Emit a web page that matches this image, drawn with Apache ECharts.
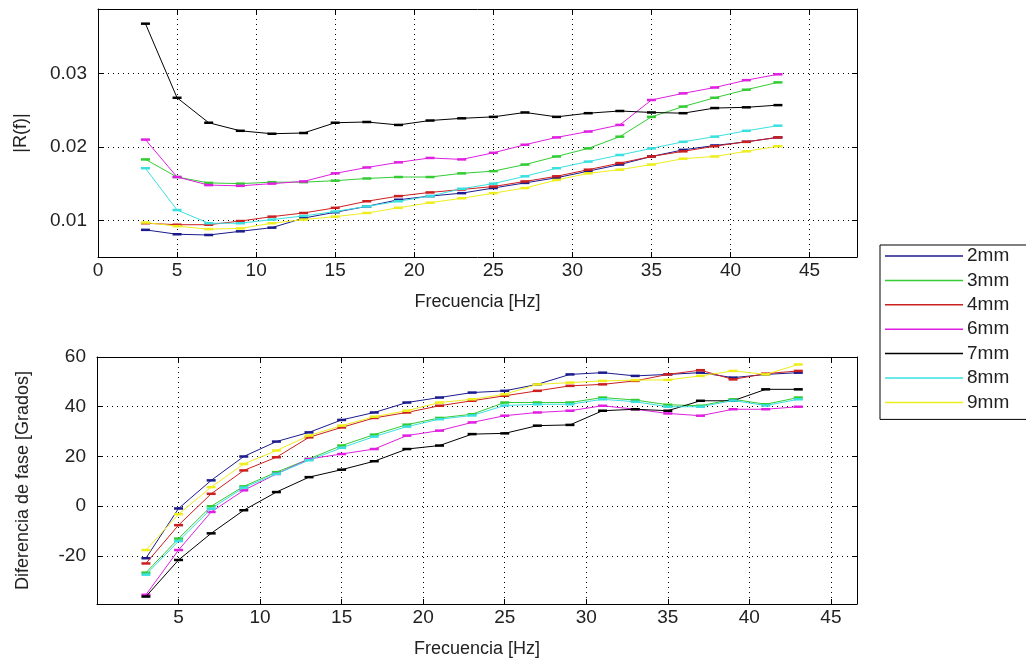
<!DOCTYPE html>
<html>
<head>
<meta charset="utf-8">
<script src="https://cdn.jsdelivr.net/npm/echarts@6/dist/echarts.min.js"></script>
<style>
html,body{margin:0;padding:0;background:#fff;}
#c{width:1026px;height:666px;}
</style>
</head>
<body>
<div id="c"></div>
<script>
// ---------- data ----------
const freq = [3,5,7,9,11,13,15,17,19,21,23,25,27,29,31,33,35,37,39,41,43];
const names = ['2mm','3mm','4mm','6mm','7mm','8mm','9mm'];
const colors = ['#1b1b8e','#33cc33','#cc1f1f','#e01fe0','#000000','#3ae0e0','#eeee1e'];

// |R(f)|
const r2mm = [0.0087,0.0081,0.0080,0.0085,0.0090,0.0103,0.0111,0.0119,0.0128,0.0133,0.0137,0.0144,0.0151,0.0158,0.0167,0.0176,0.0187,0.0196,0.0202,0.0207,0.0213];
const r3mm = [0.0183,0.0159,0.0151,0.0150,0.0152,0.0152,0.0154,0.0157,0.0159,0.0159,0.0164,0.0167,0.0176,0.0187,0.0198,0.0214,0.0241,0.0255,0.0267,0.0278,0.0288];
const r4mm = [0.0096,0.0094,0.0094,0.0099,0.0105,0.0110,0.0117,0.0126,0.0133,0.0138,0.0142,0.0146,0.0153,0.0160,0.0169,0.0178,0.0187,0.0194,0.0201,0.0207,0.0213];
const r6mm = [0.0210,0.0159,0.0148,0.0147,0.0150,0.0153,0.0164,0.0172,0.0179,0.0185,0.0183,0.0192,0.0203,0.0213,0.0221,0.0230,0.0264,0.0273,0.0281,0.0291,0.0299];
const r7mm = [0.0368,0.0267,0.0233,0.0222,0.0218,0.0219,0.0233,0.0234,0.0230,0.0236,0.0239,0.0241,0.0247,0.0241,0.0246,0.0249,0.0247,0.0246,0.0253,0.0254,0.0257];
const r8mm = [0.0171,0.0114,0.0096,0.0096,0.0101,0.0106,0.0112,0.0119,0.0126,0.0133,0.0143,0.0150,0.0160,0.0171,0.0180,0.0189,0.0198,0.0207,0.0214,0.0222,0.0229];
const r9mm = [0.0097,0.0092,0.0088,0.0089,0.0096,0.0101,0.0105,0.0110,0.0117,0.0124,0.0130,0.0137,0.0144,0.0155,0.0164,0.0169,0.0176,0.0184,0.0187,0.0194,0.0201];

// Diferencia de fase [Grados]
const p2mm = [-20.9,-0.9,10.4,20,26,29.7,34.7,37.7,41.7,43.7,45.7,46.4,49,53,53.7,52.4,53,53.7,51.7,53,53.7];
const p3mm = [-26.7,-13,0,8,13.7,19,24.4,28.8,32.8,35.5,37,41.7,41.7,41.7,43.7,42.7,40.8,40.4,43,41,43.7];
const p4mm = [-23,-7.6,5,14.4,19.7,27.7,31.7,35.5,37.7,40.4,42.4,44.4,46.4,48.4,49,50.4,53,54.7,51,53.3,54.4];
const p6mm = [-35.6,-17.6,-2.3,6.4,13,19,21,23,28.4,30.4,33.7,36.4,37.7,38.4,40.4,39,37.3,36.4,39,39,40];
const p7mm = [-36.3,-21.6,-10.9,-1.6,5.7,11.7,14.7,18.1,23,24.4,29,29.3,32.4,32.7,38.4,39,38.4,42.4,42.4,47,47];
const p8mm = [-27.5,-14,-1,7.5,13,18.5,23.5,28,32,35,36.5,40.5,41,41,43,42,40,40,42.5,40.5,43];
const p9mm = [-17.6,-3.2,7.7,17,22.4,28.4,32.4,36,38.4,41.7,43,45,49,49.7,50.4,50.7,50.8,52.4,54.4,53,57];

const topTicksX = [0,5,10,15,20,25,30,35,40,45];
const botTicksX = [5,10,15,20,25,30,35,40,45];
const topTicksY = [0.01,0.02,0.03];
const botTicksY = [-20,0,20,40,60];

const magSeries = [r2mm,r3mm,r4mm,r6mm,r7mm,r8mm,r9mm];
const phaseSeries = [p2mm,p3mm,p4mm,p6mm,p7mm,p8mm,p9mm];

// ---------- chart ----------
const FONT = 'Liberation Sans';
const TXT = '#222';
const FS_TICK = 19;
const FS_NAME = 18;
const dotted = {color:'#000', width:1, type:[1,4]};

function mainX(grid, min, max, ticks, name) {
  return {
    type:'value', gridIndex:grid, min:min, max:max, position:'bottom',
    name:name, nameLocation:'middle', nameGap:36,
    nameTextStyle:{fontFamily:FONT, fontSize:FS_NAME, color:TXT},
    axisLine:{show:true, onZero:false, lineStyle:{color:'#000', width:1}},
    axisTick:{show:true, inside:true, length:5, customValues:ticks, lineStyle:{color:'#000'}},
    axisLabel:{show:true, customValues:ticks, margin:4, fontFamily:FONT, fontSize:FS_TICK, color:TXT},
    splitLine:{show:true, lineStyle:dotted}
  };
}
function mirrorX(grid, min, max, ticks) {
  return {
    type:'value', gridIndex:grid, min:min, max:max, position:'top',
    axisLine:{show:true, onZero:false, lineStyle:{color:'#000', width:1}},
    axisTick:{show:true, inside:true, length:5, customValues:ticks, lineStyle:{color:'#000'}},
    axisLabel:{show:false}, splitLine:{show:false}
  };
}
function mainY(grid, min, max, ticks, name, gap, fmt) {
  return {
    type:'value', gridIndex:grid, min:min, max:max, position:'left',
    name:name, nameLocation:'middle', nameGap:gap, nameRotate:90,
    nameTextStyle:{fontFamily:FONT, fontSize:FS_NAME, color:TXT},
    axisLine:{show:true, onZero:false, lineStyle:{color:'#000', width:1}},
    axisTick:{show:true, inside:true, length:5, customValues:ticks, lineStyle:{color:'#000'}},
    axisLabel:{show:true, customValues:ticks, margin:11, fontFamily:FONT, fontSize:FS_TICK, color:TXT, formatter:fmt},
    splitLine:{show:true, lineStyle:dotted}
  };
}
function mirrorY(grid, min, max, ticks) {
  return {
    type:'value', gridIndex:grid, min:min, max:max, position:'right',
    axisLine:{show:true, onZero:false, lineStyle:{color:'#000', width:1}},
    axisTick:{show:true, inside:true, length:5, customValues:ticks, lineStyle:{color:'#000'}},
    axisLabel:{show:false}, splitLine:{show:false}
  };
}

const series = [];
names.forEach((n, k) => {
  series.push({
    name:n, type:'line', xAxisIndex:0, yAxisIndex:0,
    data:freq.map((f,i)=>[f, magSeries[k][i]]),
    color:colors[k], lineStyle:{width:1}, symbol:'rect', symbolSize:[9,2.5],
    showAllSymbol:true, z:2+k
  });
  series.push({
    name:n, type:'line', xAxisIndex:2, yAxisIndex:2,
    data:freq.map((f,i)=>[f, phaseSeries[k][i]]),
    color:colors[k], lineStyle:{width:1}, symbol:'rect', symbolSize:[9,2.5],
    showAllSymbol:true, z:2+k
  });
});

const option = {
  backgroundColor:'#fff',
  animation:false,
  grid:[
    {left:98, top:9, right:169, height:248, containLabel:false},
    {left:97, top:357, right:169, height:247, containLabel:false}
  ],
  xAxis:[
    mainX(0, 0, 48, topTicksX, 'Frecuencia [Hz]'),
    mirrorX(0, 0, 48, topTicksX),
    mainX(1, 0, 46.6, botTicksX, 'Frecuencia [Hz]'),
    mirrorX(1, 0, 46.6, botTicksX)
  ],
  yAxis:[
    mainY(0, 0.005, 0.0388, topTicksY, '|R(f)|', 68, v => v.toFixed(2)),
    mirrorY(0, 0.005, 0.0388, topTicksY),
    mainY(1, -39.3, 60, botTicksY, 'Diferencia de fase [Grados]', 65, v => String(v)),
    mirrorY(1, -39.3, 60, botTicksY)
  ],
  legend:{
    orient:'vertical', left:880, top:245,
    data:names, icon:'rect', itemWidth:78, itemHeight:1.5, itemGap:4.4,
    borderColor:'#000', borderWidth:1, padding:[1,60,7,5],
    textStyle:{fontFamily:FONT, fontSize:FS_TICK, color:TXT, lineHeight:20, padding:[0,0,0,-1]},
    selectedMode:false
  },
  series:series
};

const chart = echarts.init(document.getElementById('c'), null, {renderer:'canvas'});
chart.setOption(option);
</script>
</body>
</html>
